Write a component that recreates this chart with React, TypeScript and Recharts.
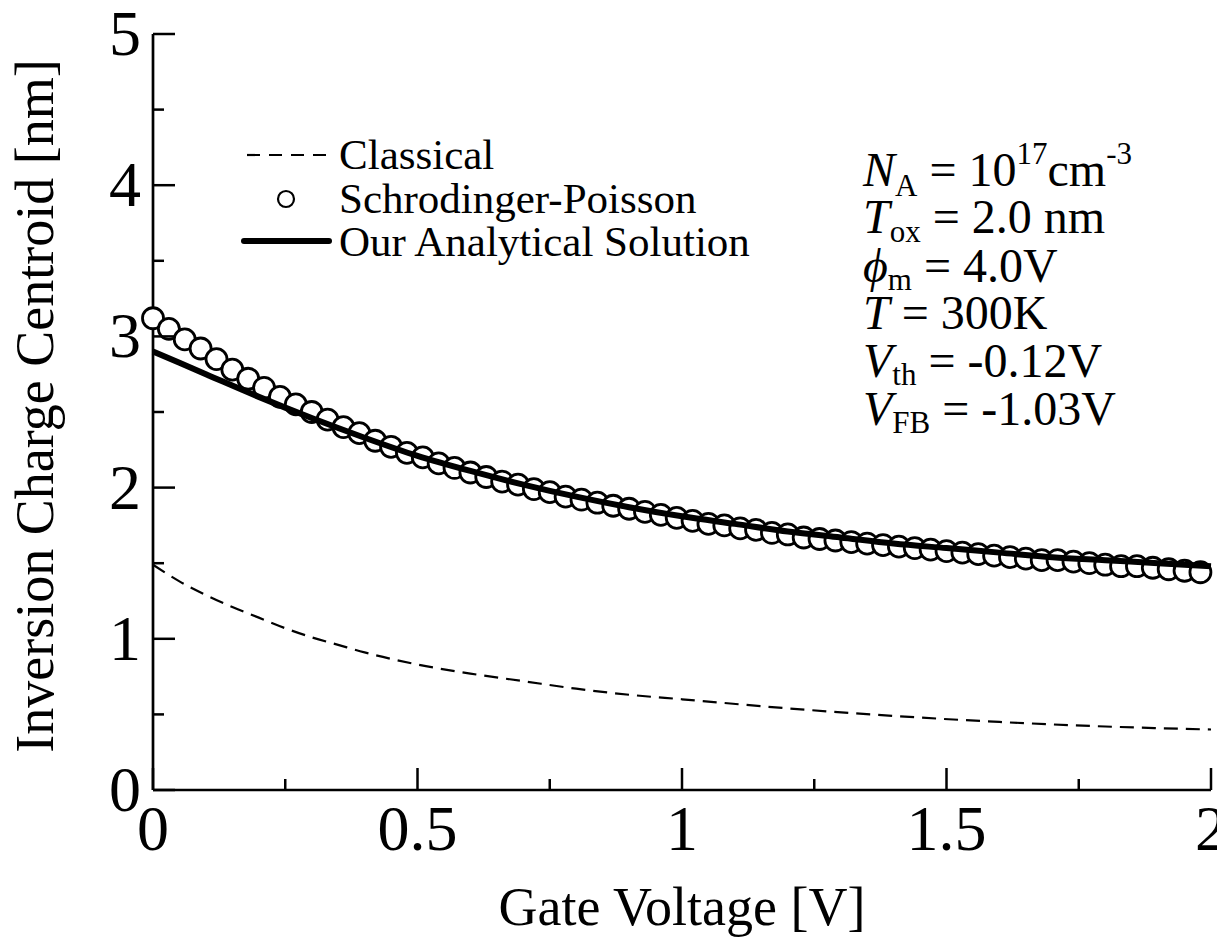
import { ComposedChart, Line, Scatter, XAxis, YAxis, Customized } from "recharts"

const FONT = '"Liberation Serif", "Times New Roman", Times, serif'

// Classical (dashed)
const classicalV = [0, 0.05, 0.1, 0.15, 0.2, 0.25, 0.3, 0.35, 0.4, 0.5, 0.6, 0.7, 0.8, 0.9, 1.0, 1.2, 1.4, 1.6, 1.8, 2.0]
const classicalNm = [1.49, 1.38, 1.29, 1.21, 1.14, 1.07, 1.01, 0.96, 0.91, 0.83, 0.77, 0.72, 0.67, 0.63, 0.6, 0.54, 0.49, 0.45, 0.42, 0.4]

// Our Analytical Solution (thick)
const analyticV = [0, 0.1, 0.2, 0.3, 0.4, 0.5, 0.6, 0.7, 0.8, 0.9, 1.0, 1.1, 1.2, 1.3, 1.4, 1.5, 1.6, 1.7, 1.8, 1.9, 2.0]
const analyticNm = [2.9, 2.75, 2.6, 2.46, 2.33, 2.21, 2.11, 2.02, 1.94, 1.87, 1.81, 1.76, 1.71, 1.67, 1.63, 1.6, 1.57, 1.54, 1.52, 1.5, 1.48]

// Schrodinger-Poisson (circles)
const spV = [
  0, 0.03, 0.06, 0.09, 0.12, 0.15, 0.18, 0.21, 0.24, 0.27, 0.3, 0.33, 0.36, 0.39, 0.42, 0.45, 0.48,
  0.51, 0.54, 0.57, 0.6, 0.63, 0.66, 0.69, 0.72, 0.75, 0.78, 0.81, 0.84, 0.87, 0.9, 0.93, 0.96, 0.99,
  1.02, 1.05, 1.08, 1.11, 1.14, 1.17, 1.2, 1.23, 1.26, 1.29, 1.32, 1.35, 1.38, 1.41, 1.44, 1.47, 1.5,
  1.53, 1.56, 1.59, 1.62, 1.65, 1.68, 1.71, 1.74, 1.77, 1.8, 1.83, 1.86, 1.89, 1.92, 1.95, 1.98,
]
const spNm = [
  3.12, 3.05, 2.98, 2.92, 2.85, 2.78, 2.72, 2.66, 2.6, 2.55, 2.5, 2.45, 2.4, 2.36, 2.31, 2.27, 2.23,
  2.2, 2.16, 2.13, 2.1, 2.07, 2.04, 2.02, 1.99, 1.97, 1.94, 1.92, 1.9, 1.88, 1.86, 1.84, 1.82, 1.8,
  1.78, 1.76, 1.75, 1.73, 1.72, 1.7, 1.69, 1.67, 1.66, 1.65, 1.64, 1.63, 1.62, 1.61, 1.6, 1.59, 1.58,
  1.57, 1.56, 1.55, 1.54, 1.53, 1.52, 1.52, 1.51, 1.5, 1.49, 1.48, 1.48, 1.47, 1.46, 1.45, 1.44,
]

const xTicks = [0, 0.25, 0.5, 0.75, 1, 1.25, 1.5, 1.75, 2]
const yTicks = [0, 0.5, 1, 1.5, 2, 2.5, 3, 3.5, 4, 4.5, 5]

const classicalData = classicalV.map((v, i) => ({ v, nm: classicalNm[i] }))
const analyticData = analyticV.map((v, i) => ({ v, nm: analyticNm[i] }))
const spData = spV.map((v, i) => ({ v, nm: spNm[i] }))

const MAJOR = 22
const MINOR = 11
const isMajor = (val: number, step: number) => Math.abs(val / step - Math.round(val / step)) < 1e-6

function BottomTick({ x, y, payload }: any) {
  const major = isMajor(payload.value, 0.5)
  return (
    <g>
      <line x1={x} x2={x} y1={y} y2={y - (major ? MAJOR : MINOR)} stroke="#000" strokeWidth={2.5} />
      {major && (
        <text x={x} y={y + 60} textAnchor="middle" fontFamily={FONT} fontSize={64} fill="#000">
          {String(payload.value)}
        </text>
      )}
    </g>
  )
}

function TopTick({ x, y, payload }: any) {
  const major = isMajor(payload.value, 0.5)
  return <line x1={x} x2={x} y1={y} y2={y + (major ? MAJOR : MINOR)} stroke="#000" strokeWidth={2.5} />
}

function LeftTick({ x, y, payload }: any) {
  const major = isMajor(payload.value, 1)
  return (
    <g>
      <line x1={x} x2={x + (major ? MAJOR : MINOR)} y1={y} y2={y} stroke="#000" strokeWidth={2.5} />
      {major && (
        <text x={x - 12} y={y + 21} textAnchor="end" fontFamily={FONT} fontSize={64} fill="#000">
          {String(payload.value)}
        </text>
      )}
    </g>
  )
}

function RightTick({ x, y, payload }: any) {
  const major = isMajor(payload.value, 1)
  return <line x1={x} x2={x - (major ? MAJOR : MINOR)} y1={y} y2={y} stroke="#000" strokeWidth={2.5} />
}

function Circle(p: any) {
  return <circle cx={p.cx} cy={p.cy} r={10.5} fill="#fff" stroke="#000" strokeWidth={2.8} />
}

function Decorations() {
  const sub = { fontSize: 31, fontStyle: "normal" as const }
  return (
    <g fontFamily={FONT} fill="#000">
      {/* axis titles */}
      <text x={674} y={917} textAnchor="middle" fontSize={54}>Gate Voltage [V]</text>
      <text x={45} y={398} textAnchor="middle" fontSize={54} transform="rotate(-90 45 398)">
        Inversion Charge Centroid [nm]
      </text>

      {/* legend */}
      <line x1={239} x2={321} y1={147} y2={147} stroke="#000" strokeWidth={2.2} strokeDasharray="13 9" />
      <text x={331} y={161} fontSize={43}>Classical</text>
      <circle cx={278} cy={191} r={8} fill="#fff" stroke="#000" strokeWidth={2.2} />
      <text x={331} y={205} fontSize={43}>Schrodinger-Poisson</text>
      <line x1={236} x2={321} y1={233} y2={233} stroke="#000" strokeWidth={6} strokeLinecap="round" />
      <text x={331} y={248} fontSize={43}>Our Analytical Solution</text>

      {/* parameters */}
      <g fontSize={48}>
        <text x={855} y={178}>
          <tspan fontStyle="italic">N</tspan>
          <tspan dy={10} {...sub}>A</tspan>
          <tspan dy={-10}> = 10</tspan>
          <tspan dy={-22} {...sub}>17</tspan>
          <tspan dy={22}>cm</tspan>
          <tspan dy={-22} {...sub}>-3</tspan>
        </text>
        <text x={855} y={225}>
          <tspan fontStyle="italic">T</tspan>
          <tspan dy={9} {...sub}>ox</tspan>
          <tspan dy={-9}> = 2.0 nm</tspan>
        </text>
        <text x={855} y={274}>
          <tspan fontStyle="italic">ϕ</tspan>
          <tspan dy={8} {...sub}>m</tspan>
          <tspan dy={-8}> = 4.0V</tspan>
        </text>
        <text x={855} y={321}>
          <tspan fontStyle="italic">T</tspan>
          <tspan> = 300K</tspan>
        </text>
        <text x={855} y={369}>
          <tspan fontStyle="italic">V</tspan>
          <tspan dy={8} {...sub}>th</tspan>
          <tspan dy={-8}> = -0.12V</tspan>
        </text>
        <text x={855} y={417}>
          <tspan fontStyle="italic">V</tspan>
          <tspan dy={8} {...sub}>FB</tspan>
          <tspan dy={-8}> = -1.03V</tspan>
        </text>
      </g>
    </g>
  )
}

export default function App() {
  return (
    <div style={{ width: 1217, height: 931, background: "#fff" }}>
      <ComposedChart width={1217} height={931} margin={{ top: 26, right: 14, bottom: 0, left: 0 }}>
        <XAxis
          dataKey="v"
          type="number"
          domain={[0, 2]}
          ticks={xTicks}
          interval={0}
          height={149}
          tickSize={0}
          tickMargin={0}
          tick={<BottomTick />}
          axisLine={{ stroke: "#000", strokeWidth: 2.7 }}
          tickLine={false}
        />
        <XAxis
          xAxisId="top"
          orientation="top"
          dataKey="v"
          type="number"
          domain={[0, 2]}
          ticks={xTicks}
          interval={0}
          height={0}
          tickSize={0}
          tickMargin={0}
          tick={<TopTick />}
          axisLine={{ stroke: "#000", strokeWidth: 2.7 }}
          tickLine={false}
        />
        <YAxis
          type="number"
          domain={[0, 5]}
          ticks={yTicks}
          interval={0}
          width={145}
          tickSize={0}
          tickMargin={0}
          tick={<LeftTick />}
          axisLine={{ stroke: "#000", strokeWidth: 2.7 }}
          tickLine={false}
        />
        <YAxis
          yAxisId="right"
          orientation="right"
          type="number"
          domain={[0, 5]}
          ticks={yTicks}
          interval={0}
          width={0}
          tickSize={0}
          tickMargin={0}
          tick={<RightTick />}
          axisLine={{ stroke: "#000", strokeWidth: 2.7 }}
          tickLine={false}
        />
        <Line
          data={classicalData}
          dataKey="nm"
          type="monotone"
          stroke="#000"
          strokeWidth={2.2}
          strokeDasharray="14 8"
          dot={false}
          activeDot={false}
          isAnimationActive={false}
        />
        <Scatter data={spData} dataKey="nm" shape={Circle} zIndex={600} isAnimationActive={false} />
        <Line
          data={analyticData}
          dataKey="nm"
          type="monotone"
          stroke="#000"
          strokeWidth={6}
          zIndex={650}
          dot={false}
          activeDot={false}
          isAnimationActive={false}
        />
        <Customized component={Decorations} />
      </ComposedChart>
    </div>
  )
}
